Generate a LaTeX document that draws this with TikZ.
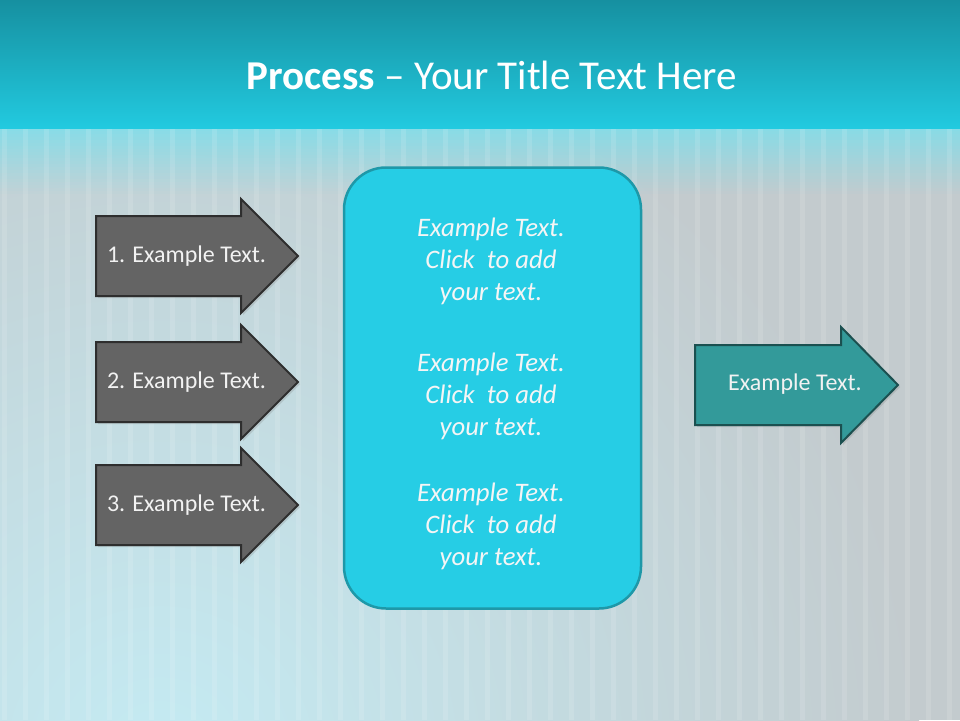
\documentclass[tikz,border=0pt]{standalone}
\usepackage{fontspec}
\setmainfont{Carlito}
\usetikzlibrary{shadows}

\definecolor{bandtop}{HTML}{1690A0}
\definecolor{bandbot}{HTML}{22CAE0}
\definecolor{bggray}{HTML}{C3CBCE}
\definecolor{bgglow}{HTML}{C4EBF3}
\definecolor{darkfill}{HTML}{646464}
\definecolor{darkline}{HTML}{2E2E2E}
\definecolor{tealfill}{HTML}{339A9A}
\definecolor{tealline}{HTML}{1B5050}
\definecolor{boxfill}{HTML}{26CDE5}
\definecolor{boxline}{HTML}{1E98A8}

\begin{document}
\begin{tikzpicture}[x=1pt, y=-1pt,
  darrow/.style = {draw=darkline, fill=darkfill, line width=2pt, line join=miter,
    drop shadow={opacity=0.25, shadow xshift=2pt, shadow yshift=-2pt}},
  tarrow/.style = {draw=tealline, fill=tealfill, line width=2pt, line join=miter,
    drop shadow={opacity=0.25, shadow xshift=2pt, shadow yshift=-2pt}},
  mainbox/.style = {draw=boxline, fill=boxfill, line width=2.5pt, rounded corners=42pt,
    minimum width=297pt, minimum height=441pt},
  ltext/.style = {text=white!95!black, font=\fontsize{24}{29}\selectfont},
  btext/.style = {text=white!96!black, align=center, font=\fontsize{26.7}{32}\selectfont\itshape}]

% background
\useasboundingbox (0,0) rectangle (960,720);
\fill[bggray] (0,0) rectangle (960,720);
\begin{scope}
  \clip (0,128) rectangle (960,720);
  \shade[inner color=bgglow, outer color=bggray] (160,760) circle (760);
  \foreach \k [evaluate=\k as \op using 0.8*(1-\k/22)] in {0,...,21}
    \fill[bandbot!60!white, opacity=\op] (0,128+3*\k) rectangle (960,131+3*\k);
  \foreach \i in {4,25,...,960}
    \draw[white, opacity=0.12, line width=5pt] (\i,128) -- (\i,720);
\end{scope}
\shade[top color=bandtop, bottom color=bandbot] (0,0) rectangle (960,128);

\node[text=white, font=\fontsize{41}{49}\selectfont] (title) at (492,75)
  {\textbf{Process} – Your Title Text Here};

% input arrows
\foreach \n/\c in {1/256,2/382,3/505} {
  \draw[darrow] (96,\c-40) -- (241,\c-40) -- (241,\c-57) -- (298,\c)
    -- (241,\c+57) -- (241,\c+40) -- (96,\c+40) -- cycle;
  \node[ltext] (in\n) at (186.5,\c) {\n. Example Text.};
}

% middle box
\node[mainbox] (box) at (492.5,388) {};
\node[btext] (b1) at (491,261) {Example Text.\\Click\ \ to add\\your text.};
\node[btext] (b2) at (491,396) {Example Text.\\Click\ \ to add\\your text.};
\node[btext] (b3) at (491,526) {Example Text.\\Click\ \ to add\\your text.};

% output arrow
\draw[tarrow] (695,345) -- (841,345) -- (841,327) -- (898,385)
  -- (841,443) -- (841,425) -- (695,425) -- cycle;
\node[ltext] (out) at (795,384) {Example Text.};

\end{tikzpicture}
\end{document}
